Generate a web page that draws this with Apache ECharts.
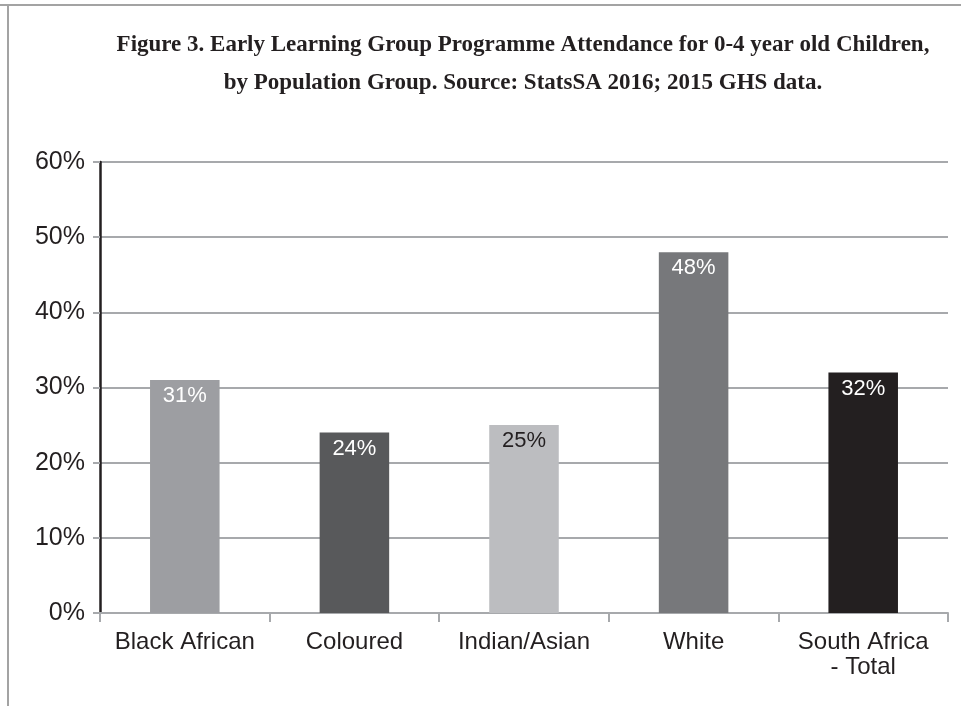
<!DOCTYPE html>
<html>
<head>
<meta charset="utf-8">
<script src="https://cdn.jsdelivr.net/npm/echarts@6/dist/echarts.min.js"></script>
<style>
html,body{margin:0;padding:0;background:#fff;}
#chart{width:961px;height:706px;}
</style>
</head>
<body>
<div id="chart"></div>
<script>
const categories = ['Black African', 'Coloured', 'Indian/Asian', 'White', 'South Africa\n- Total'];
const values = [31, 24, 25, 48, 32];
const barColors = ['#9d9ea2', '#58595b', '#bcbdc0', '#77787b', '#231f20'];
const labelColors = ['#ffffff', '#ffffff', '#231f20', '#ffffff', '#ffffff'];
const yTicks = [0, 10, 20, 30, 40, 50, 60];
const titleText = 'Figure 3. Early Learning Group Programme Attendance for 0-4 year old Children,\nby Population Group. Source: StatsSA 2016; 2015 GHS data.';

const chart = echarts.init(document.getElementById('chart'), null, {renderer: 'canvas'});
const option = {
  backgroundColor: '#ffffff',
  animation: false,
  graphic: [
    {type: 'line', shape: {x1: 0, y1: 5, x2: 961, y2: 5}, style: {stroke: '#a3a3a3', lineWidth: 2}},
    {type: 'line', shape: {x1: 8, y1: 5, x2: 8, y2: 706}, style: {stroke: '#a3a3a3', lineWidth: 2}},
    {
      type: 'text',
      x: 523,
      y: 26,
      style: {
        text: titleText,
        align: 'center',
        verticalAlign: 'top',
        fontFamily: 'Liberation Serif',
        fontWeight: 'bold',
        fontSize: 23,
        lineHeight: 38,
        fill: '#231f20'
      }
    }
  ],
  grid: {left: 100, right: 13, top: 162, bottom: 93, containLabel: false},
  xAxis: {
    type: 'category',
    data: categories,
    axisLine: {show: true, lineStyle: {color: '#a7a9ac', width: 2}},
    axisTick: {show: true, alignWithLabel: false, length: 9, lineStyle: {color: '#a7a9ac', width: 2}},
    axisLabel: {
      fontFamily: 'Liberation Sans',
      fontSize: 24,
      color: '#231f20',
      margin: 17,
      lineHeight: 25,
      interval: 0
    }
  },
  yAxis: {
    type: 'value',
    min: 0,
    max: 60,
    interval: 10,
    axisLine: {show: true, lineStyle: {color: '#231f20', width: 2.5}},
    axisTick: {show: true, length: 7, lineStyle: {color: '#a7a9ac', width: 2}},
    splitLine: {show: true, lineStyle: {color: '#a7a9ac', width: 2}},
    axisLabel: {
      fontFamily: 'Liberation Sans',
      fontSize: 25,
      color: '#231f20',
      margin: 15,
      verticalAlign: 'middle',
      padding: [0, 0, 10, 0],
      formatter: function (v) { return yTicks.indexOf(v) >= 0 ? v + '%' : ''; }
    }
  },
  series: [{
    type: 'bar',
    barWidth: '41%',
    data: values.map(function (v, i) {
      return {
        value: v,
        itemStyle: {color: barColors[i]},
        label: {color: labelColors[i]}
      };
    }),
    label: {
      show: true,
      position: 'insideTop',
      distance: 5,
      fontFamily: 'Liberation Sans',
      fontSize: 22,
      formatter: '{c}%'
    }
  }]
};
chart.setOption(option);
</script>
</body>
</html>
